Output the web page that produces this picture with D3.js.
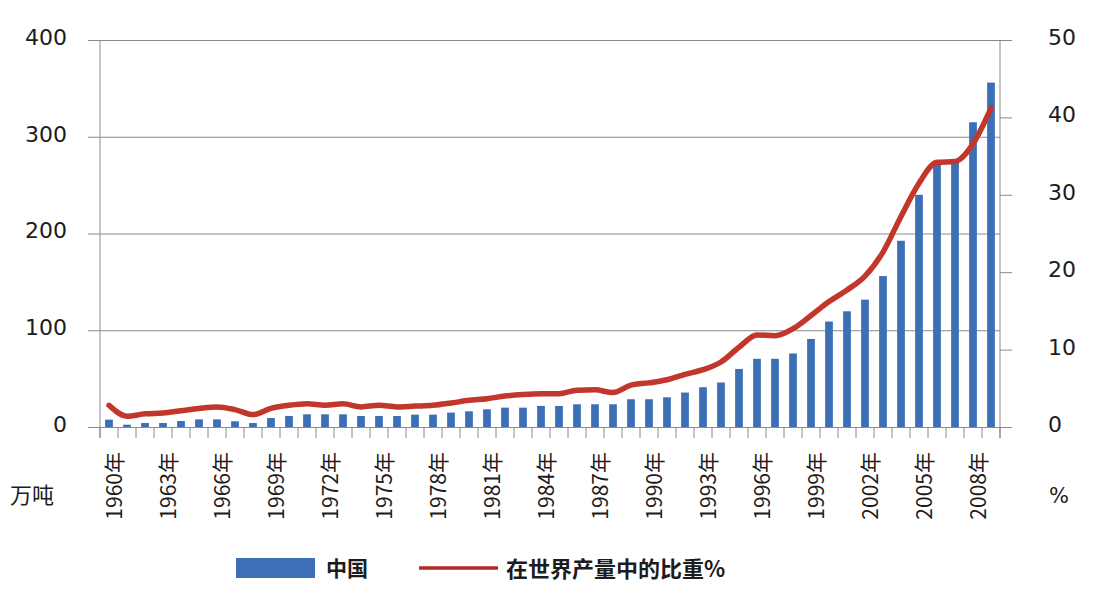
<!DOCTYPE html>
<html>
<head>
<meta charset="utf-8">
<script src="https://cdn.jsdelivr.net/npm/d3@7"></script>
<style>
  body { margin: 0; background: #fff; }
  svg { display: block; }
</style>
</head>
<body>
<div id="chart"></div>
<script>
// chart data
var years = d3.range(1960, 2010);
var labelYears = [1960, 1963, 1966, 1969, 1972, 1975, 1978, 1981, 1984, 1987, 1990, 1993, 1996, 1999, 2002, 2005, 2008];

// production, 万吨
var output = [7.6, 2.4, 4.1, 4.1, 6.2, 7.9, 7.9, 5.9, 4.1, 9.3,
  11.4, 13.1, 13.1, 13.1, 11.4, 11.4, 11.4, 12.8, 12.8, 14.9,
  16.2, 18.3, 20, 20, 21.8, 21.8, 23.5, 23.5, 23.5, 28.7,
  28.7, 30.7, 35.6, 41.1, 46, 60, 70.5, 70.5, 76, 91,
  109, 119.6, 131.6, 156, 192.5, 240, 271, 273, 315, 356];

// share of world production, %
var share = [2.8, 1.4, 1.7, 1.8, 2.1, 2.4, 2.6, 2.25, 1.6, 2.4,
  2.8, 3.0, 2.8, 3.0, 2.6, 2.8, 2.6, 2.7, 2.8, 3.1,
  3.45, 3.65, 4.0, 4.2, 4.3, 4.3, 4.75, 4.8, 4.45, 5.4,
  5.7, 6.1, 6.8, 7.4, 8.4, 10.3, 11.9, 11.8, 12.7, 14.4,
  16.2, 17.7, 19.5, 22.6, 27.2, 31.5, 34.2, 34.3, 36.6, 41.2];

var leftTicks = [0, 100, 200, 300, 400];
var rightTicks = [0, 10, 20, 30, 40, 50];

var svgWidth = 1100;
var svgHeight = 600;
var margin = { top: 40, right: 100, bottom: 173, left: 100 };
var chartWidth = svgWidth - margin.left - margin.right;
var chartHeight = svgHeight - margin.top - margin.bottom;

var blue = "#3c6fb5";
var red = "#c3362c";
var grey = "#8a8a8a";
var textColor = "#1c1c1c";
var numFont = "'DejaVu Sans', sans-serif";
var cjkFont = "'Noto Sans CJK SC', sans-serif";

var svg = d3.select("#chart")
  .append("svg")
  .attr("width", svgWidth)
  .attr("height", svgHeight);

var chartGroup = svg.append("g")
  .attr("transform", `translate(${margin.left}, ${margin.top})`);

var data = years.map((y, i) => ({ year: y, output: output[i], share: share[i] }));

var x = d3.scaleBand()
  .domain(years)
  .range([0, chartWidth])
  .paddingInner(0.57)
  .paddingOuter(0.285);

var yLeft = d3.scaleLinear().domain([0, 400]).range([chartHeight, 0]);
var yRight = d3.scaleLinear().domain([0, 50]).range([chartHeight, 0]);

// gridlines
chartGroup.append("g")
  .call(d3.axisLeft(yLeft).tickValues(leftTicks).tickSize(-chartWidth).tickFormat(""))
  .call(g => g.select(".domain").remove())
  .call(g => g.selectAll("line").attr("stroke", grey).attr("stroke-width", 1));

// left axis
chartGroup.append("g")
  .call(d3.axisLeft(yLeft).tickValues(leftTicks).tickSize(12).tickPadding(21))
  .call(g => g.select(".domain").remove())
  .call(g => g.selectAll("line").attr("stroke", grey))
  .call(g => g.selectAll("text")
    .attr("dy", "0.2em")
    .attr("fill", textColor)
    .style("font-family", numFont)
    .style("font-size", "22px"));

// right axis
chartGroup.append("g")
  .attr("transform", `translate(${chartWidth}, 0)`)
  .call(d3.axisRight(yRight).tickValues(rightTicks).tickSize(12).tickPadding(36))
  .call(g => g.select(".domain").remove())
  .call(g => g.selectAll("line").attr("stroke", grey))
  .call(g => g.selectAll("text")
    .attr("dy", "0.2em")
    .attr("fill", textColor)
    .style("font-family", numFont)
    .style("font-size", "22px"));

// vertical axis lines, running down to the tick ends
[0, chartWidth].forEach(px => {
  chartGroup.append("line")
    .attr("x1", px).attr("x2", px)
    .attr("y1", 0).attr("y2", chartHeight + 11)
    .attr("stroke", grey);
});

// category ticks on band boundaries
var step = x.step();
var boundaries = years.map(y => x(y) - step * x.paddingInner() / 2).concat([chartWidth]);
chartGroup.append("g")
  .selectAll("line")
  .data(boundaries)
  .enter()
  .append("line")
  .attr("x1", d => d).attr("x2", d => d)
  .attr("y1", chartHeight).attr("y2", chartHeight + 11)
  .attr("stroke", grey);

// year labels
chartGroup.append("g")
  .attr("transform", `translate(0, ${chartHeight})`)
  .call(d3.axisBottom(x).tickValues(labelYears).tickSize(0).tickFormat(d => d + "年"))
  .call(g => g.select(".domain").remove())
  .call(g => g.selectAll("text")
    .attr("transform", "rotate(-90)")
    .attr("x", -25)
    .attr("y", 0)
    .attr("dy", "0.6em")
    .style("text-anchor", "end")
    .attr("fill", textColor)
    .style("font-family", cjkFont)
    .style("font-size", "21px"));

// bars
chartGroup.append("g")
  .selectAll("rect")
  .data(data)
  .enter()
  .append("rect")
  .attr("x", d => x(d.year))
  .attr("width", x.bandwidth())
  .attr("y", d => yLeft(d.output))
  .attr("height", d => chartHeight - yLeft(d.output))
  .attr("fill", blue);

// share line
var line = d3.line()
  .x(d => x(d.year) + x.bandwidth() / 2)
  .y(d => yRight(d.share))
  .curve(d3.curveMonotoneX);

chartGroup.append("path")
  .datum(data)
  .attr("d", line)
  .attr("fill", "none")
  .attr("stroke", red)
  .attr("stroke-width", 5.5)
  .attr("stroke-linejoin", "round")
  .attr("stroke-linecap", "round");

// unit labels
svg.append("text")
  .attr("x", 10).attr("y", 503)
  .attr("fill", textColor)
  .style("font-family", cjkFont)
  .style("font-size", "22px")
  .text("万吨");

svg.append("text")
  .attr("x", 1049).attr("y", 503)
  .attr("fill", textColor)
  .style("font-family", numFont)
  .style("font-size", "21px")
  .text("%");

// legend
var legend = svg.append("g");
legend.append("rect")
  .attr("x", 236).attr("y", 558)
  .attr("width", 79).attr("height", 20)
  .attr("fill", blue);
legend.append("text")
  .attr("x", 326).attr("y", 576)
  .attr("fill", textColor)
  .style("font-family", cjkFont)
  .style("font-size", "21px")
  .style("font-weight", "bold")
  .text("中国");
legend.append("line")
  .attr("x1", 419).attr("x2", 498)
  .attr("y1", 568).attr("y2", 568)
  .attr("stroke", "#b3292b")
  .attr("stroke-width", 3.5);
legend.append("text")
  .attr("x", 506).attr("y", 577)
  .attr("fill", textColor)
  .style("font-family", cjkFont)
  .style("font-size", "22px")
  .style("font-weight", "bold")
  .text("在世界产量中的比重%");
</script>
</body>
</html>
